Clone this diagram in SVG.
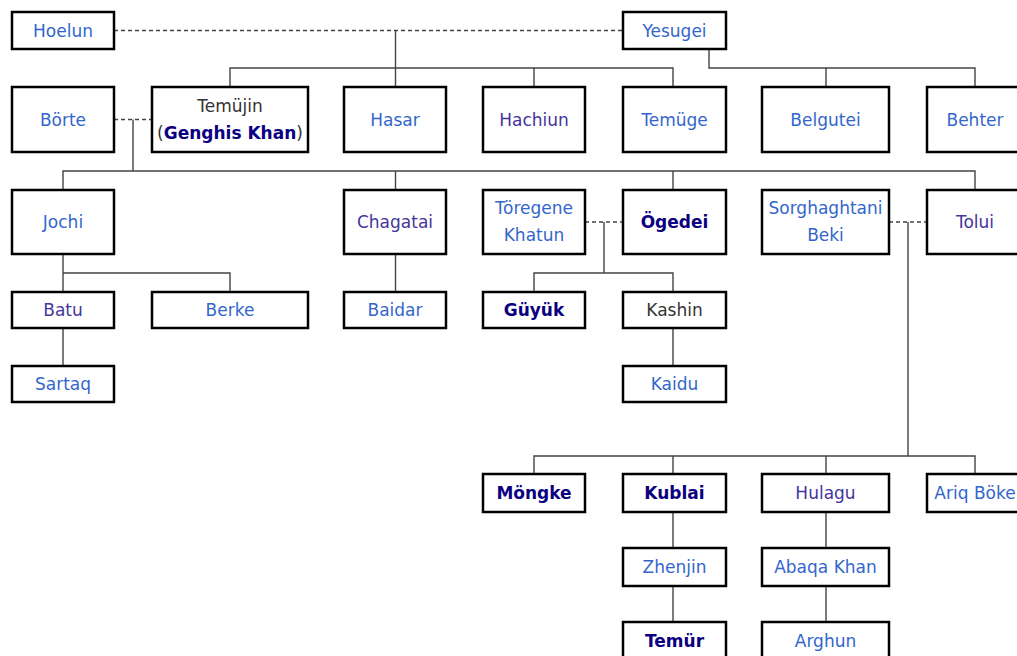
<svg xmlns="http://www.w3.org/2000/svg" width="1017" height="656" viewBox="0 0 1017 656">
<style>
rect{fill:#fff;stroke:#000;stroke-width:2.5}
text{font-family:"DejaVu Sans","Liberation Sans",sans-serif;font-size:17px;text-anchor:middle}
.l{fill:#3366cc}
.v{fill:#45359c}
.b{fill:#0b0080;font-weight:bold}
.p{fill:#333}
#connectors path{fill:none;stroke:#444;stroke-width:1.4}
#connectors .d{stroke-dasharray:4,3}
</style>
<rect x="0" y="0" width="1017" height="656" style="fill:#fff;stroke:none"/>
<g id="connectors">
<path class="d" d="M114 30.5H622"/>
<path d="M395.5 30.5V87M230 87V68H673V87M534 68V87"/>
<path d="M709 49V68H975V87M826 68V87"/>
<path class="d" d="M114 119.5H152"/>
<path d="M133 119.5V171M63 190V171H975V190M395.5 171V190M673 171V190"/>
<path d="M63 254V292M63 273H230V292M63 328V366"/>
<path d="M395.5 254V292"/>
<path class="d" d="M585 222H622"/>
<path d="M604 222V273M534 292V273H673V292M673 328V366"/>
<path class="d" d="M889 222H926"/>
<path d="M908 222V456M534 474V456H975V474M673 456V474M826 456V474"/>
<path d="M673 512V548M673 586V622M826 512V548M826 586V622"/>
</g>
<g id="hoelun"><rect x="12" y="12" width="102" height="37"/><text class="l" x="63" y="36.5">Hoelun</text></g>
<g id="yesugei"><rect x="623" y="12" width="103" height="37"/><text class="l" x="674.5" y="36.5">Yesugei</text></g>
<g id="borte"><rect x="12" y="87" width="102" height="65"/><text class="l" x="63" y="125.5">Börte</text></g>
<g id="temujin"><rect x="152" y="87" width="156" height="65"/><text class="p" x="230" y="111.5">Temüjin</text><text class="p" x="230" y="138.5">(<tspan class="b">Genghis Khan</tspan>)</text></g>
<g id="hasar"><rect x="344" y="87" width="102" height="65"/><text class="l" x="395" y="125.5">Hasar</text></g>
<g id="hachiun"><rect x="483" y="87" width="102" height="65"/><text class="v" x="534" y="125.5">Hachiun</text></g>
<g id="temuge"><rect x="623" y="87" width="103" height="65"/><text class="l" x="674.5" y="125.5">Temüge</text></g>
<g id="belgutei"><rect x="762" y="87" width="127" height="65"/><text class="l" x="825.5" y="125.5">Belgutei</text></g>
<g id="behter"><rect x="927" y="87" width="102" height="65"/><text class="l" x="975" y="125.5">Behter</text></g>
<g id="jochi"><rect x="12" y="190" width="102" height="64"/><text class="l" x="63" y="228">Jochi</text></g>
<g id="chagatai"><rect x="344" y="190" width="102" height="64"/><text class="v" x="395" y="228">Chagatai</text></g>
<g id="toregene"><rect x="483" y="190" width="102" height="64"/><text class="l" x="534" y="214">Töregene</text><text class="l" x="534" y="241">Khatun</text></g>
<g id="ogedei"><rect x="623" y="190" width="103" height="64"/><text class="b" x="674.5" y="228">Ögedei</text></g>
<g id="sorghaghtani"><rect x="762" y="190" width="127" height="64"/><text class="l" x="825.5" y="214">Sorghaghtani</text><text class="l" x="825.5" y="241">Beki</text></g>
<g id="tolui"><rect x="927" y="190" width="102" height="64"/><text class="v" x="975" y="228">Tolui</text></g>
<g id="batu"><rect x="12" y="292" width="102" height="36"/><text class="v" x="63" y="316">Batu</text></g>
<g id="berke"><rect x="152" y="292" width="156" height="36"/><text class="l" x="230" y="316">Berke</text></g>
<g id="baidar"><rect x="344" y="292" width="102" height="36"/><text class="l" x="395" y="316">Baidar</text></g>
<g id="guyuk"><rect x="483" y="292" width="102" height="36"/><text class="b" x="534" y="316">Güyük</text></g>
<g id="kashin"><rect x="623" y="292" width="103" height="36"/><text class="p" x="674.5" y="316">Kashin</text></g>
<g id="sartaq"><rect x="12" y="366" width="102" height="36"/><text class="l" x="63" y="390">Sartaq</text></g>
<g id="kaidu"><rect x="623" y="366" width="103" height="36"/><text class="l" x="674.5" y="390">Kaidu</text></g>
<g id="mongke"><rect x="483" y="474" width="102" height="38"/><text class="b" x="534" y="499">Möngke</text></g>
<g id="kublai"><rect x="623" y="474" width="103" height="38"/><text class="b" x="674.5" y="499">Kublai</text></g>
<g id="hulagu"><rect x="762" y="474" width="127" height="38"/><text class="v" x="825.5" y="499">Hulagu</text></g>
<g id="ariqboke"><rect x="927" y="474" width="102" height="38"/><text class="l" x="975" y="499">Ariq Böke</text></g>
<g id="zhenjin"><rect x="623" y="548" width="103" height="38"/><text class="l" x="674.5" y="573">Zhenjin</text></g>
<g id="abaqa"><rect x="762" y="548" width="127" height="38"/><text class="l" x="825.5" y="573">Abaqa Khan</text></g>
<g id="temur"><rect x="623" y="622" width="103" height="38"/><text class="b" x="674.5" y="647">Temür</text></g>
<g id="arghun"><rect x="762" y="622" width="127" height="38"/><text class="l" x="825.5" y="647">Arghun</text></g>
</svg>
